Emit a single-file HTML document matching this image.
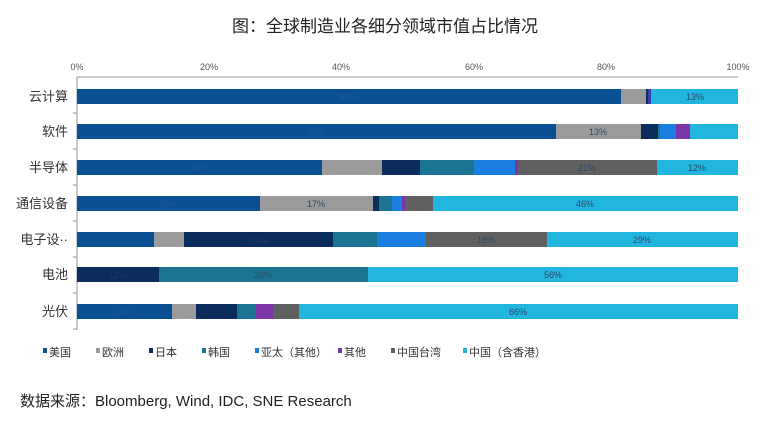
<!DOCTYPE html>
<html><head><meta charset="utf-8"><style>
body{margin:0;background:#fff;width:771px;height:424px;overflow:hidden}
text{font-family:"Liberation Sans","Noto Sans CJK SC",sans-serif}
</style></head><body>
<svg width="771" height="424" xmlns="http://www.w3.org/2000/svg">
<text x="385" y="32" font-size="17" text-anchor="middle" fill="#222">图：全球制造业各细分领域市值占比情况</text>
<g font-size="9" fill="#555" text-anchor="middle">
<text x="77" y="70">0%</text><text x="209" y="70">20%</text><text x="341" y="70">40%</text><text x="474" y="70">60%</text><text x="606" y="70">80%</text><text x="738" y="70">100%</text>
</g>
<line x1="77" y1="77" x2="738" y2="77" stroke="#999" stroke-width="1"/>
<line x1="77" y1="77" x2="77" y2="330" stroke="#999" stroke-width="1"/>
<g stroke="#999"><line x1="73" y1="113" x2="77" y2="113"/><line x1="73" y1="149" x2="77" y2="149"/><line x1="73" y1="185" x2="77" y2="185"/><line x1="73" y1="221" x2="77" y2="221"/><line x1="73" y1="257" x2="77" y2="257"/><line x1="73" y1="293" x2="77" y2="293"/><line x1="73" y1="329" x2="77" y2="329"/></g>
<g font-size="13" fill="#333" text-anchor="end">
<text x="68" y="101">云计算</text><text x="68" y="136">软件</text><text x="68" y="172">半导体</text><text x="68" y="208">通信设备</text><text x="68" y="244">电子设··</text><text x="68" y="279">电池</text><text x="68" y="316">光伏</text>
</g>
<g>
<!-- 云计算 -->
<rect x="77" y="89" width="544" height="15" fill="#0b4f94"/><rect x="621" y="89" width="25" height="15" fill="#9b9b9b"/><rect x="646" y="89" width="2" height="15" fill="#0a2d5c"/><rect x="648" y="89" width="3" height="15" fill="#3a3fa8"/><rect x="651" y="89" width="87" height="15" fill="#22b5e0"/>
<!-- 软件 -->
<rect x="77" y="124" width="479" height="15" fill="#0b4f94"/><rect x="556" y="124" width="85" height="15" fill="#9b9b9b"/><rect x="641" y="124" width="17" height="15" fill="#0a2d5c"/><rect x="658" y="124" width="2" height="15" fill="#1b7592"/><rect x="660" y="124" width="16" height="15" fill="#1a7fe0"/><rect x="676" y="124" width="14" height="15" fill="#7b35a8"/><rect x="690" y="124" width="48" height="15" fill="#22b5e0"/>
<!-- 半导体 -->
<rect x="77" y="160" width="245" height="15" fill="#0b4f94"/><rect x="322" y="160" width="60" height="15" fill="#9b9b9b"/><rect x="382" y="160" width="38" height="15" fill="#0a2d5c"/><rect x="420" y="160" width="54" height="15" fill="#1b7592"/><rect x="474" y="160" width="41" height="15" fill="#1a7fe0"/><rect x="515" y="160" width="3" height="15" fill="#7b35a8"/><rect x="518" y="160" width="139" height="15" fill="#606060"/><rect x="657" y="160" width="81" height="15" fill="#22b5e0"/>
<!-- 通信设备 -->
<rect x="77" y="196" width="183" height="15" fill="#0b4f94"/><rect x="260" y="196" width="113" height="15" fill="#9b9b9b"/><rect x="373" y="196" width="6" height="15" fill="#0a2d5c"/><rect x="379" y="196" width="13" height="15" fill="#1b7592"/><rect x="392" y="196" width="10" height="15" fill="#1a7fe0"/><rect x="402" y="196" width="3" height="15" fill="#7b35a8"/><rect x="405" y="196" width="28" height="15" fill="#606060"/><rect x="433" y="196" width="305" height="15" fill="#22b5e0"/>
<!-- 电子设备 -->
<rect x="77" y="232" width="77" height="15" fill="#0b4f94"/><rect x="154" y="232" width="30" height="15" fill="#9b9b9b"/><rect x="184" y="232" width="149" height="15" fill="#0a2d5c"/><rect x="333" y="232" width="44" height="15" fill="#1b7592"/><rect x="377" y="232" width="49" height="15" fill="#1a7fe0"/><rect x="426" y="232" width="121" height="15" fill="#606060"/><rect x="547" y="232" width="191" height="15" fill="#22b5e0"/>
<!-- 电池 -->
<rect x="77" y="267" width="82" height="15" fill="#0a2d5c"/><rect x="159" y="267" width="209" height="15" fill="#1b7592"/><rect x="368" y="267" width="370" height="15" fill="#22b5e0"/>
<!-- 光伏 -->
<rect x="77" y="304" width="95" height="15" fill="#0b4f94"/><rect x="172" y="304" width="24" height="15" fill="#9b9b9b"/><rect x="196" y="304" width="41" height="15" fill="#0a2d5c"/><rect x="237" y="304" width="19" height="15" fill="#1b7592"/><rect x="256" y="304" width="17" height="15" fill="#7b35a8"/><rect x="273" y="304" width="26" height="15" fill="#606060"/><rect x="299" y="304" width="439" height="15" fill="#22b5e0"/>
</g>
<g font-size="9" fill="#2a4a66" text-anchor="middle">
<text x="348" y="100" fill="#1d5a9a">82%</text><text x="316" y="135" fill="#1d5a9a">72%</text><text x="695" y="100">13%</text><text x="598" y="135">13%</text>
<text x="200" y="171" fill="#1d5a9a">37%</text><text x="587" y="171">21%</text><text x="697" y="171">12%</text>
<text x="168" y="207" fill="#1d5a9a">28%</text><text x="316" y="207">17%</text><text x="585" y="207">46%</text>
<text x="258" y="243" fill="#1a3a66">22%</text><text x="486" y="243">18%</text><text x="642" y="243">29%</text>
<text x="118" y="278" fill="#1a3a66">12%</text><text x="263" y="278">32%</text><text x="553" y="278">56%</text>
<text x="124" y="315" fill="#1d5a9a">14%</text><text x="518" y="315">66%</text>
</g>
<g font-size="11" fill="#333">
<rect x="43" y="348" width="4" height="5" fill="#0b4f94"/><text x="49" y="356">美国</text>
<rect x="96" y="348" width="4" height="5" fill="#9b9b9b"/><text x="102" y="356">欧洲</text>
<rect x="149" y="348" width="4" height="5" fill="#0a2d5c"/><text x="155" y="356">日本</text>
<rect x="202" y="348" width="4" height="5" fill="#1b7592"/><text x="208" y="356">韩国</text>
<rect x="255" y="348" width="4" height="5" fill="#1a7fe0"/><text x="261" y="356">亚太（其他）</text>
<rect x="338" y="348" width="4" height="5" fill="#7b35a8"/><text x="344" y="356">其他</text>
<rect x="391" y="348" width="4" height="5" fill="#606060"/><text x="397" y="356">中国台湾</text>
<rect x="463" y="348" width="4" height="5" fill="#22b5e0"/><text x="469" y="356">中国（含香港）</text>
</g>
<text x="20" y="406" font-size="15" fill="#222">数据来源：Bloomberg, Wind, IDC, SNE Research</text>
</svg>
</body></html>
